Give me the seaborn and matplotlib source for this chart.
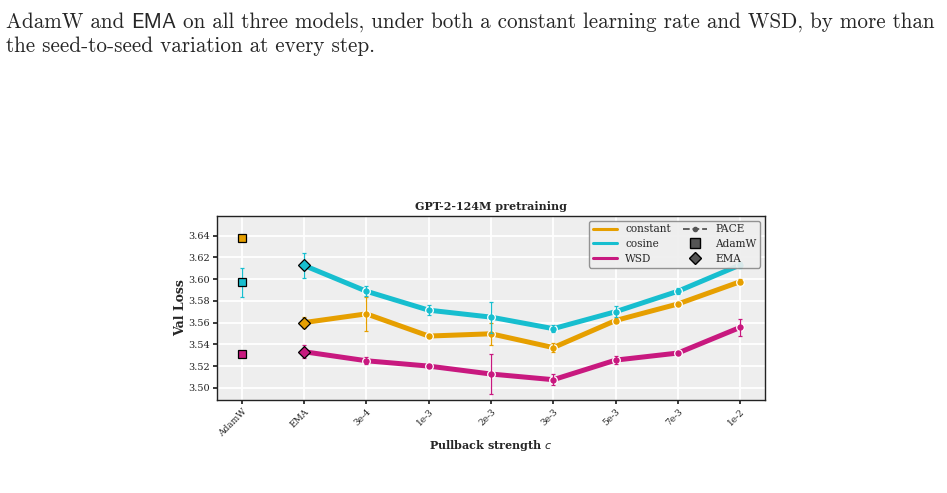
import numpy as np
import pandas as pd
import seaborn as sns
import matplotlib.pyplot as plt
from matplotlib.lines import Line2D

# %% Data

lst_ticks = ['AdamW', 'EMA', '3e-4', '1e-3', '2e-3', '3e-3', '5e-3', '7e-3',
             '1e-2']
lst_sched = ['constant', 'cosine', 'WSD']
lst_colors = ['#E69F00', '#17BECF', '#C8197F']

# baselines (one value per schedule)
adamw_mean = [3.6378, 3.5969, 3.5313]
adamw_err = [0.0, 0.0134, 0.0]
ema_mean = [3.5600, 3.6125, 3.5332]
ema_err = [0.0053, 0.0113, 0.0060]

# PACE, one value per pullback strength (3e-4 ... 1e-2)
pace_constant = [3.5680, 3.5476, 3.5497, 3.5370, 3.5619, 3.5771, 3.5976]
pace_constant_err = [0.0155, 0.0020, 0.0100, 0.0040, 0.0020, 0.0020, 0.0020]
pace_cosine = [3.5888, 3.5714, 3.5650, 3.5544, 3.5700, 3.5888, 3.6130]
pace_cosine_err = [0.0047, 0.0047, 0.0143, 0.0030, 0.0050, 0.0030, 0.0030]
pace_wsd = [3.5249, 3.5200, 3.5127, 3.5075, 3.5255, 3.5320, 3.5556]
pace_wsd_err = [0.0030, 0.0020, 0.0180, 0.0050, 0.0040, 0.0015, 0.0078]

lst_pace = [pace_constant, pace_cosine, pace_wsd]
lst_pace_err = [pace_constant_err, pace_cosine_err, pace_wsd_err]

# %% Build long data frame (line runs from EMA through the PACE points)

lst_rows = []
for ind, sched in enumerate(lst_sched):
    vals = [ema_mean[ind]] + lst_pace[ind]
    errs = [ema_err[ind]] + lst_pace_err[ind]
    for pos, (v, e) in enumerate(zip(vals, errs)):
        lst_rows.append({'pos': pos + 1, 'loss': v, 'err': e, 'sched': sched})
df = pd.DataFrame(lst_rows)

# %% Plot

sns.set_theme(style='darkgrid', rc={
    'axes.facecolor': '#EEEEEE',
    'axes.edgecolor': '#222222',
    'axes.linewidth': 1.0,
    'grid.color': 'white',
    'grid.linewidth': 1.3,
    'xtick.bottom': True,
    'ytick.left': True,
    'xtick.color': '#222222',
    'ytick.color': '#222222',
    'xtick.major.size': 3,
    'ytick.major.size': 3,
})
plt.rcParams['font.family'] = ['DejaVu Serif']

fig = plt.figure(figsize=(9.47, 4.93), dpi=100)
ax = fig.add_axes([0.229, 0.189, 0.579, 0.373])

sns.lineplot(data=df, x='pos', y='loss', hue='sched', palette=lst_colors,
             hue_order=lst_sched, linewidth=3.6, marker='o', markersize=5.5,
             markeredgecolor='white', markeredgewidth=0.9, legend=False,
             ax=ax, zorder=2)

for ind, sched in enumerate(lst_sched):
    sub = df[df['sched'] == sched]
    ax.errorbar(sub['pos'], sub['loss'], yerr=sub['err'], fmt='none',
                ecolor=lst_colors[ind], elinewidth=0.9, capsize=1.5,
                capthick=0.9, zorder=3)
    # AdamW baseline
    ax.errorbar([0], [adamw_mean[ind]],
                yerr=[adamw_err[ind]] if adamw_err[ind] > 0 else None,
                fmt='s', color=lst_colors[ind], ecolor=lst_colors[ind],
                markeredgecolor='black', markeredgewidth=0.9, markersize=6,
                elinewidth=0.9, capsize=1.5, zorder=4)
    # EMA baseline
    ax.plot([1], [ema_mean[ind]], marker='D', color=lst_colors[ind],
            markeredgecolor='black', markeredgewidth=0.9, markersize=6.5,
            linestyle='none', zorder=4)

ax.set_xlim(-0.4, 8.4)
ax.set_ylim(3.489, 3.658)
ax.set_yticks(np.arange(3.50, 3.645, 0.02))
ax.set_yticklabels(['%.2f' % v for v in np.arange(3.50, 3.645, 0.02)],
                   fontsize=7)
ax.set_xticks(range(len(lst_ticks)))
ax.set_xticklabels(lst_ticks, rotation=45, ha='right',
                   rotation_mode='anchor', fontsize=6.5)
ax.tick_params(axis='both', pad=2)
ax.set_xlabel('Pullback strength $c$', fontsize=8, fontweight='bold',
              labelpad=0)
ax.set_ylabel('Val Loss', fontsize=9, fontweight='bold', labelpad=1)
ax.set_title('GPT-2-124M pretraining', fontsize=8, fontweight='bold',
             pad=4)
for sp in ax.spines.values():
    sp.set_visible(True)

lst_handles = [Line2D([], [], color=c, lw=2.2) for c in lst_colors]
lst_handles += [
    Line2D([], [], color='#555555', lw=1.3, ls='--', marker='o',
           markersize=3),
    Line2D([], [], color='#555555', marker='s', ls='none',
           markeredgecolor='black', markersize=6.5),
    Line2D([], [], color='#555555', marker='D', ls='none',
           markeredgecolor='black', markersize=6.5),
]
lst_labels = lst_sched + ['PACE', 'AdamW', 'EMA']
leg = ax.legend(lst_handles, lst_labels, ncol=2, loc='upper right',
                fontsize=7.6, frameon=True, borderpad=0.35,
                labelspacing=0.45, handlelength=2.3, handletextpad=0.8,
                columnspacing=1.1, borderaxespad=0.45)
leg.get_frame().set_edgecolor('#888888')
leg.get_frame().set_facecolor('#EEEEEE')
leg.get_frame().set_alpha(0.9)

# %% Paragraph text above the chart

lst_line1 = [('AdamW and ', 'cmr10'), ('EMA', 'cmss10'),
             (' on all three models, under both a constant learning rate '
              'and WSD, by more than', 'cmr10')]
lst_line2 = [('the seed-to-seed variation at every step.', 'cmr10')]

renderer = fig.canvas.get_renderer()


def put_line(pieces, y_px, size):
    x = 6.0
    for txt, fam in pieces:
        t = fig.text(x / 947, 1 - y_px / 493, txt, family=fam,
                     fontsize=size, va='baseline', ha='left')
        bb = t.get_window_extent(renderer=renderer)
        x = bb.x1
    return x


put_line(lst_line1, 28, 15.2)
put_line(lst_line2, 52, 15.2)

fig.savefig('out.png', dpi=100)
